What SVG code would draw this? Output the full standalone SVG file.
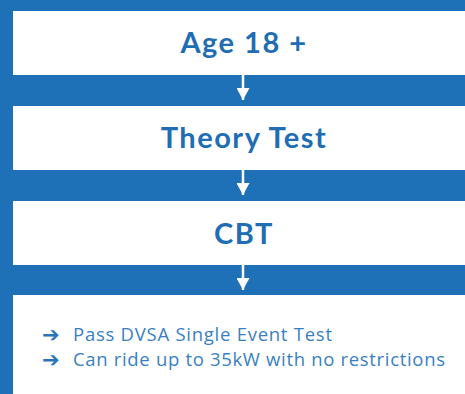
<svg xmlns="http://www.w3.org/2000/svg" width="465" height="394" viewBox="0 0 465 394">
<style>
.box{fill:#ffffff}
.h{font-family:Lato,"Noto Sans",sans-serif;font-weight:700;font-size:29px;letter-spacing:1.5px;fill:#1f6db3;text-anchor:middle}
.b{font-family:"Open Sans","Noto Sans",sans-serif;font-weight:400;font-size:18.5px;fill:#3a7fc2}
.ar{font-family:"DejaVu Sans",sans-serif;font-weight:700;font-size:21px;fill:#2a74bb}
.c{stroke:#ffffff;stroke-width:2.5;fill:none}
</style>
<defs>
<marker id="ah" markerWidth="12" markerHeight="13" refX="12" refY="6.5" orient="auto" markerUnits="userSpaceOnUse" viewBox="0 0 12 13">
<path d="M0,0 L12,6.5 L0,13 Z" fill="#ffffff"/>
</marker>
</defs>
<rect width="465" height="394" fill="#1e70b7"/>
<g id="n1"><rect class="box" x="13" y="11" width="452" height="64"/><text class="h" x="244" y="53">Age 18 +</text></g>
<g id="n2"><rect class="box" x="13" y="106" width="452" height="64"/><text class="h" x="244" y="148">Theory Test</text></g>
<g id="n3"><rect class="box" x="13" y="201" width="452" height="64"/><text class="h" x="244" y="244">CBT</text></g>
<g id="n4"><rect class="box" x="13" y="295" width="452" height="99"/>
<text class="ar" x="42" y="342">➔</text>
<text class="b" x="73" y="341" textLength="259" lengthAdjust="spacing">Pass DVSA Single Event Test</text>
<text class="ar" x="42" y="367">➔</text>
<text class="b" x="73" y="366" textLength="372" lengthAdjust="spacing">Can ride up to 35kW with no restrictions</text>
</g>
<g id="connectors">
<line class="c" x1="243" y1="75" x2="243" y2="100" marker-end="url(#ah)"/>
<line class="c" x1="243" y1="170" x2="243" y2="195" marker-end="url(#ah)"/>
<line class="c" x1="243" y1="265" x2="243" y2="290" marker-end="url(#ah)"/>
</g>
</svg>
